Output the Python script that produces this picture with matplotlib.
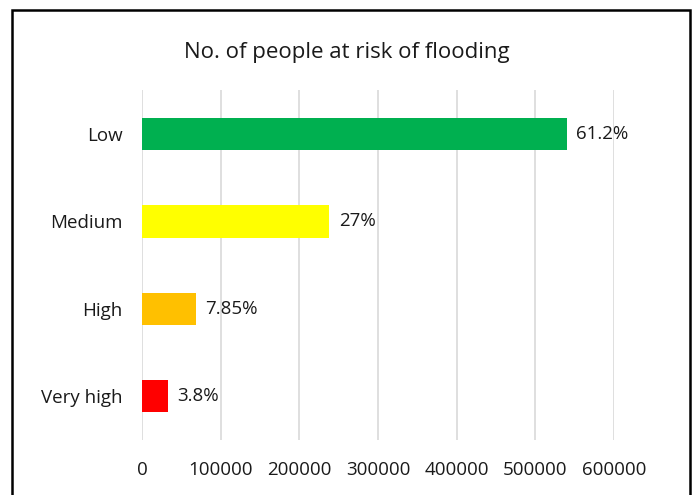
import matplotlib.pyplot as plt
from matplotlib.patches import Rectangle

# 数据
categories = ["Low", "Medium", "High", "Very high"]
people = [540000, 238000, 68500, 33000]
pct_labels = ["61.2%", "27%", "7.85%", "3.8%"]
bar_colors = ["#00b050", "#ffff00", "#ffc000", "#ff0000"]
xticks = [0, 100000, 200000, 300000, 400000, 500000, 600000]

plt.rcParams['font.family'] = ['Open Sans', 'DejaVu Sans']

fig = plt.figure(figsize=(6.94, 4.95), dpi=100)
ax = fig.add_axes([0.2046, 0.111, 0.680, 0.707])

ypos = list(range(len(categories)))
bars = ax.barh(ypos, people, height=0.37, color=bar_colors, zorder=3)
ax.bar_label(bars, labels=pct_labels, padding=7, fontsize=13.5, color="#1a1a1a")

ax.set_ylim(len(categories) - 0.5, -0.5)
ax.set_yticks(ypos)
ax.set_yticklabels(categories, fontsize=13.5, color="#1a1a1a")
ax.set_xlim(0, 600000)
ax.set_xticks(xticks)
ax.set_xticklabels([str(v) for v in xticks], fontsize=13.5, color="#1a1a1a")
ax.xaxis.grid(True, color="#d9d9d9", linewidth=1.2, zorder=0)
ax.tick_params(length=0)
ax.tick_params(axis='x', pad=15)
ax.tick_params(axis='y', pad=14)
for s in ax.spines.values():
    s.set_visible(False)

fig.text(0.5, 0.893, "No. of people at risk of flooding", ha="center", va="center",
         fontsize=16, color="#1a1a1a")

# 外框
fig.patches.append(Rectangle((12 / 694, -0.05), 678 / 694, 1.05 - 10 / 495,
                             transform=fig.transFigure, fill=False,
                             edgecolor="black", linewidth=1.8))

fig.savefig("out.png", dpi=100)
